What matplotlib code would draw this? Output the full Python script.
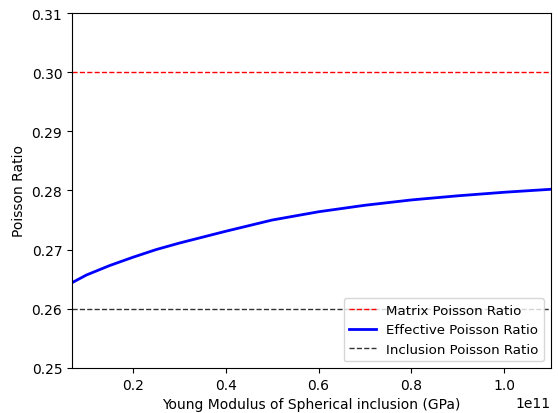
import numpy as np
import matplotlib
matplotlib.use('Agg')
import matplotlib.pyplot as plt

# valores (modulo de Young em Pa, razao de Poisson)
young_inclusao = [0.069e11, 0.1e11, 0.15e11, 0.2e11, 0.25e11, 0.3e11, 0.4e11, 0.5e11,
                  0.6e11, 0.7e11, 0.8e11, 0.9e11, 1.0e11, 1.1e11]
poisson_efetivo = [0.2644, 0.2657, 0.2673, 0.2687, 0.2700, 0.2711, 0.2731, 0.2750,
                   0.2764, 0.2775, 0.2784, 0.2791, 0.2797, 0.2802]
poisson_matriz = 0.30
poisson_inclusao = 0.26

fig = plt.figure(figsize=(5.58, 4.14), dpi=100)
ax = fig.add_axes([0.129, 0.109, 0.858, 0.857])

ax.axhline(poisson_matriz, color='red', linestyle='--', linewidth=1, label='Matrix Poisson Ratio')
ax.plot(young_inclusao, poisson_efetivo, color='blue', linewidth=2, label='Effective Poisson Ratio')
ax.axhline(poisson_inclusao, color='black', linestyle='--', linewidth=1, alpha=0.8,
           label='Inclusion Poisson Ratio')

ax.set_xlim(young_inclusao[0], young_inclusao[-1])
ax.set_ylim(0.25, 0.31)
ax.set_xlabel('Young Modulus of Spherical inclusion (GPa)')
ax.set_ylabel('Poisson Ratio')
ax.legend(loc='lower right', fontsize=9.6)

fig.savefig('out.png', dpi=100)
